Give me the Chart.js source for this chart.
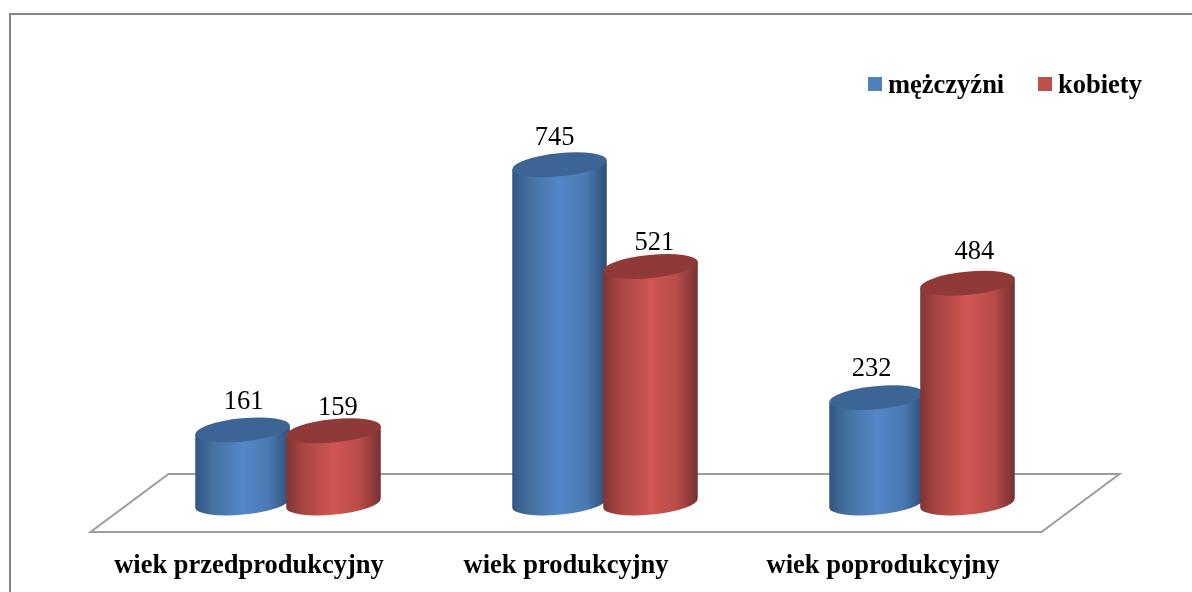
<!DOCTYPE html>
<html>
<head>
<meta charset="utf-8">
<style>
  html, body { margin: 0; padding: 0; background: #fff; overflow: hidden; }
  canvas { display: block; }
</style>
<script src="https://cdn.jsdelivr.net/npm/chart.js@4"></script>
</head>
<body>
<canvas id="chart" width="1192" height="592"></canvas>
<script>
var categories = ["wiek przedprodukcyjny", "wiek produkcyjny", "wiek poprodukcyjny"];
var seriesNames = ["mężczyźni", "kobiety"];
var men = [161, 745, 232];
var women = [159, 521, 484];

var fontName = '"Liberation Serif", "Times New Roman", serif';
var fontSize = 26.5;
var tilt = -5.6 * Math.PI / 180;
var capHeight = 11.6;
var floorDepth = 29, floorSkew = 39;

// per series: legend colour, cap colour, side gradient
var looks = [
  { solid: '#4f81bd', cap: '#3c6595', stops: ['#2f5682', '#44719f', '#5487c9', '#4a79b2', '#2c4e76'] },
  { solid: '#c0504d', cap: '#8f3a38', stops: ['#7f3533', '#a84644', '#d05653', '#b84c49', '#753130'] }
];
// data labels sit a little off centre in the original
var labelNudge = [
  [[1, -28], [-5, -27], [-5, -29]],
  [[4.5, -23], [4, -23], [7, -31]]
];

function drawCylinder(ctx, bar, look) {
  var rx = bar.width / 2, cx = bar.x;
  var dx = rx * Math.cos(tilt), dy = rx * Math.sin(tilt);
  var grad = ctx.createLinearGradient(cx - rx, 0, cx + rx, 0);
  var at = [0, 0.18, 0.5, 0.78, 1];
  look.stops.forEach(function (c, i) { grad.addColorStop(at[i], c); });

  ctx.beginPath();
  ctx.moveTo(cx + dx, bar.y + dy);
  ctx.lineTo(cx + dx, bar.base + dy);
  ctx.ellipse(cx, bar.base, rx, capHeight, tilt, 0, Math.PI);
  ctx.lineTo(cx - dx, bar.y - dy);
  ctx.closePath();
  ctx.fillStyle = grad;
  ctx.fill();

  ctx.beginPath();
  ctx.ellipse(cx, bar.y, rx, capHeight, tilt, 0, Math.PI * 2);
  ctx.fillStyle = look.cap;
  ctx.fill();
}

var cylinders = {
  id: 'cylinders',
  beforeDatasetsDraw: function (chart) {
    var ctx = chart.ctx, area = chart.chartArea;
    ctx.save();

    // outer frame
    ctx.strokeStyle = '#868686';
    ctx.lineWidth = 2;
    ctx.beginPath();
    ctx.moveTo(10, 592);
    ctx.lineTo(10, 14);
    ctx.lineTo(1192, 14);
    ctx.stroke();

    // floor
    ctx.strokeStyle = '#9c9c9c';
    ctx.lineWidth = 2;
    ctx.beginPath();
    ctx.moveTo(area.left + floorSkew, area.bottom - floorDepth);
    ctx.lineTo(area.right + floorSkew, area.bottom - floorDepth);
    ctx.lineTo(area.right - floorSkew, area.bottom + floorDepth);
    ctx.lineTo(area.left - floorSkew, area.bottom + floorDepth);
    ctx.closePath();
    ctx.stroke();

    // blue first, red overlaps it
    chart.data.datasets.forEach(function (ds, d) {
      chart.getDatasetMeta(d).data.forEach(function (bar) {
        drawCylinder(ctx, bar, looks[d]);
      });
    });

    // value labels
    ctx.fillStyle = '#000';
    ctx.font = fontSize + 'px ' + fontName;
    ctx.textAlign = 'center';
    ctx.textBaseline = 'middle';
    chart.data.datasets.forEach(function (ds, d) {
      chart.getDatasetMeta(d).data.forEach(function (bar, i) {
        ctx.fillText(ds.data[i], bar.x + labelNudge[d][i][0], bar.y + labelNudge[d][i][1]);
      });
    });

    // legend
    ctx.font = 'bold ' + fontSize + 'px ' + fontName;
    ctx.textAlign = 'left';
    var legendX = [868, 1038];
    seriesNames.forEach(function (name, d) {
      ctx.fillStyle = looks[d].solid;
      ctx.fillRect(legendX[d], 77, 14, 14);
      ctx.fillStyle = '#000';
      ctx.fillText(name, legendX[d] + 20, 86);
    });

    ctx.restore();
    return false;
  }
};

new Chart(document.getElementById('chart').getContext('2d'), {
  type: 'bar',
  data: {
    labels: categories,
    datasets: [
      { label: seriesNames[0], data: men, backgroundColor: looks[0].solid },
      { label: seriesNames[1], data: women, backgroundColor: looks[1].solid }
    ]
  },
  plugins: [cylinders],
  options: {
    responsive: false,
    animation: false,
    categoryPercentage: 0.574,
    barPercentage: 1.044,
    layout: { padding: { top: 49, bottom: 11, left: 129.5, right: 111.5 } },
    plugins: { legend: { display: false }, tooltip: { enabled: false } },
    scales: {
      x: {
        // keep the axis band short, the labels hang lower than the fit allows
        afterFit: function (scale) { scale.height = 78; },
        grid: { display: false },
        border: { display: false },
        ticks: {
          color: '#000',
          font: { family: fontName, size: fontSize, weight: 'bold' },
          padding: 39,
          labelOffset: -39,
          maxRotation: 0,
          autoSkip: false
        }
      },
      y: { display: false, min: 0, max: 1000 }
    }
  }
});
</script>
</body>
</html>
